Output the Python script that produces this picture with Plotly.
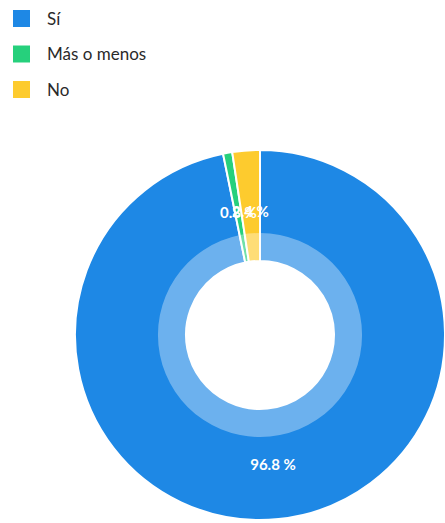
import math
import plotly.graph_objects as go

categories = ["Sí", "Más o menos", "No"]
counts = [121, 1, 3]
colors = ["#1E88E5", "#26D07C", "#FDCB2E"]

W, H = 445, 523
total = sum(counts)
shares = [c / total for c in counts]
labels_text = [f"{100 * s:.1f} %" for s in shares]

# pie geometry (pixels)
cx, cy, R = 260, 335, 185
r_hole, r_ring = 74, 102

def dom(r):
    return dict(x=[(cx - r) / W, (cx + r) / W],
                y=[(H - cy - r) / H, (H - cy + r) / H])

label_font = dict(family="Lato", size=15, color="white", weight="bold")
big = [s >= 0.05 for s in shares]

fig = go.Figure()
fig.add_trace(go.Pie(
    labels=categories, values=counts,
    text=[t if b else "" for t, b in zip(labels_text, big)],
    textinfo="text", textposition="inside", insidetextorientation="horizontal",
    textfont=label_font,
    marker=dict(colors=colors, line=dict(color="white", width=2)),
    hole=r_hole / R, sort=False, direction="clockwise", rotation=0,
    domain=dom(R), showlegend=False, hoverinfo="label+percent",
))
fig.add_trace(go.Pie(
    values=[1], labels=["ring"], textinfo="none",
    marker=dict(colors=["rgba(255,255,255,0.35)"], line=dict(width=0)),
    hole=r_hole / r_ring, sort=False, domain=dom(r_ring),
    showlegend=False, hoverinfo="skip",
))

shapes, annots = [], []

# labels for the thin slices, placed at mid-ring along each slice's bisector
r_mid = (r_hole + R) / 2 - 5
cum = 0.0
for s, t, b in zip(shares, labels_text, big):
    mid = cum + s / 2
    cum += s
    if b:
        continue
    ang = 2 * math.pi * mid  # clockwise from 12 o'clock
    px = cx + r_mid * math.sin(ang)
    py = cy - r_mid * math.cos(ang)
    annots.append(dict(text=t, xref="paper", yref="paper",
                       x=px / W, y=1 - py / H, xanchor="center", yanchor="middle",
                       showarrow=False, font=label_font))

# manual legend
for i, (name, col) in enumerate(zip(categories, colors)):
    yc = 18.5 + i * 35.5
    shapes.append(dict(type="rect", xref="paper", yref="paper",
                       x0=13 / W, x1=30 / W,
                       y0=1 - (yc + 8.5) / H, y1=1 - (yc - 8.5) / H,
                       fillcolor=col, line=dict(width=0)))
    annots.append(dict(text=name, xref="paper", yref="paper",
                       x=45 / W, y=1 - yc / H, xanchor="left", yanchor="middle",
                       showarrow=False,
                       font=dict(family="Lato", size=17, color="#2a2a2a")))

fig.update_layout(
    width=W, height=H, margin=dict(l=0, r=0, t=0, b=0),
    paper_bgcolor="white", plot_bgcolor="white",
    shapes=shapes, annotations=annots,
    uniformtext=dict(minsize=15, mode="show"),
)
fig.write_html("out.html")
